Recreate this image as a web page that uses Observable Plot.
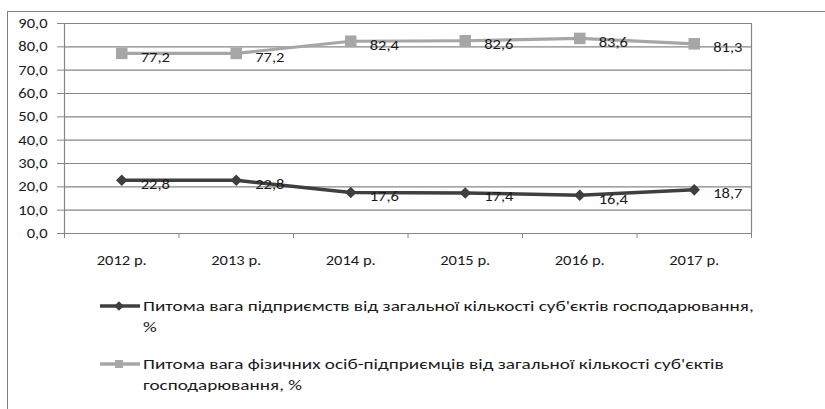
<!DOCTYPE html>
<html>
<head>
<meta charset="utf-8">
<script src="https://cdn.jsdelivr.net/npm/d3@7"></script>
<script src="https://cdn.jsdelivr.net/npm/@observablehq/plot@0.6"></script>
<style>
  html, body { margin: 0; padding: 0; background: #fff; }
  #wrap { position: relative; width: 825px; height: 409px; overflow: hidden; font-family: Carlito, Lato, sans-serif; }
  #frame { position: absolute; left: 7px; top: 11px; width: 830px; height: 410px; border-top: 1px solid #7f7f7f; border-left: 1px solid #7f7f7f; pointer-events: none; }
  #chart { position: absolute; left: 0; top: 0; }
  #legend { position: absolute; left: 100px; top: 296px; width: 720px; color: #1a1a1a; font-size: 15px; }
  .item { display: flex; align-items: flex-start; margin-bottom: 16px; }
  .item svg { flex: none; margin-top: 2px; }
  .item span { display: inline-block; line-height: 21px; white-space: nowrap; transform: scaleX(1.28); transform-origin: 0 0; margin-left: 3px; }
</style>
</head>
<body>
<div id="wrap">
  <div id="chart"></div>
  <div id="frame"></div>
  <div id="legend"></div>
</div>
<script>
const years = ["2012 р.", "2013 р.", "2014 р.", "2015 р.", "2016 р.", "2017 р."];
const enterprises = [22.8, 22.8, 17.6, 17.4, 16.4, 18.7];
const individuals = [77.2, 77.2, 82.4, 82.6, 83.6, 81.3];
// legend labels, split into the two lines shown in the reference
const seriesNames = [
  ["Питома вага підприємств від загальної кількості суб'єктів господарювання,", "%"],
  ["Питома вага фізичних осіб-підприємців від загальної кількості суб'єктів", "господарювання, %"]
];
const yTicks = [0, 10, 20, 30, 40, 50, 60, 70, 80, 90];

const S = 1.18; // horizontal text stretch of the reference
const c1 = "#3f3f3f", c2 = "#a6a6a6";
const d1 = years.map((y, i) => ({i: i + 0.5, v: enterprises[i]}));
const d2 = years.map((y, i) => ({i: i + 0.5, v: individuals[i]}));
const fmt = v => v.toFixed(1).replace(".", ",");

const chart = Plot.plot({
  width: 825,
  height: 270,
  marginLeft: 64,
  marginRight: 74,
  marginTop: 23,
  marginBottom: 37,
  style: {fontFamily: "Carlito, Lato, sans-serif", fontSize: "14px", color: "#1a1a1a", background: "transparent"},
  x: {type: "linear", domain: [0, 6], label: null},
  y: {domain: [0, 90], label: null},
  marks: [
    Plot.gridY(yTicks, {stroke: "#868686", strokeOpacity: 1, strokeWidth: 1.2}),
    Plot.ruleX([0, 6], {y1: 0, y2: 90, stroke: "#868686", strokeWidth: 1.2}),
    Plot.axisY({ticks: yTicks, tickFormat: fmt, tickSize: 7, tickPadding: 10, stroke: "#868686", fontSize: 14}),
    Plot.axisX({ticks: [0, 1, 2, 3, 4, 5, 6], tickFormat: () => "", tickSize: 5, stroke: "#868686"}),
    Plot.axisX({ticks: [0.5, 1.5, 2.5, 3.5, 4.5, 5.5], tickFormat: t => years[Math.floor(t)], tickSize: 0, tickPadding: 22, fontSize: 14}),
    Plot.line(d2, {x: "i", y: "v", stroke: c2, strokeWidth: 3.2}),
    Plot.dot(d2, {x: "i", y: "v", symbol: "square", r: 6.5, fill: c2}),
    Plot.line(d1, {x: "i", y: "v", stroke: c1, strokeWidth: 3.5}),
    Plot.dot(d1, {x: "i", y: "v", symbol: "diamond2", r: 5.2, fill: c1}),
    Plot.text(d2, {x: "i", y: "v", text: d => fmt(d.v), dx: 19, dy: 4, textAnchor: "start", fill: "#1a1a1a", fontSize: 14}),
    Plot.text(d1, {x: "i", y: "v", text: d => fmt(d.v), dx: 19, dy: 4, textAnchor: "start", fill: "#1a1a1a", fontSize: 14})
  ]
});
// stretch text horizontally around its anchor, as in the reference
d3.select(chart).selectAll("text").each(function() {
  const el = d3.select(this);
  const x = +el.attr("x") || 0, y = +el.attr("y") || 0;
  const t = el.attr("transform") || "";
  el.attr("transform", `${t} translate(${x},${y}) scale(${S},1) translate(${-x},${-y})`);
});
document.getElementById("chart").appendChild(chart);

const legend = document.getElementById("legend");
[[c1, d3.symbolDiamond2, 60], [c2, d3.symbolSquare2, 80]].forEach(([col, sym, size], k) => {
  const item = document.createElement("div");
  item.className = "item";
  const sw = d3.create("svg").attr("width", 40).attr("height", 16);
  sw.append("line").attr("x1", 0).attr("x2", 40).attr("y1", 8).attr("y2", 8).attr("stroke", col).attr("stroke-width", 3.5);
  sw.append("path").attr("transform", "translate(19,8)").attr("fill", col).attr("d", d3.symbol(sym, size)());
  item.appendChild(sw.node());
  const span = document.createElement("span");
  span.append(seriesNames[k][0], document.createElement("br"), seriesNames[k][1]);
  item.appendChild(span);
  legend.appendChild(item);
});
</script>
</body>
</html>
